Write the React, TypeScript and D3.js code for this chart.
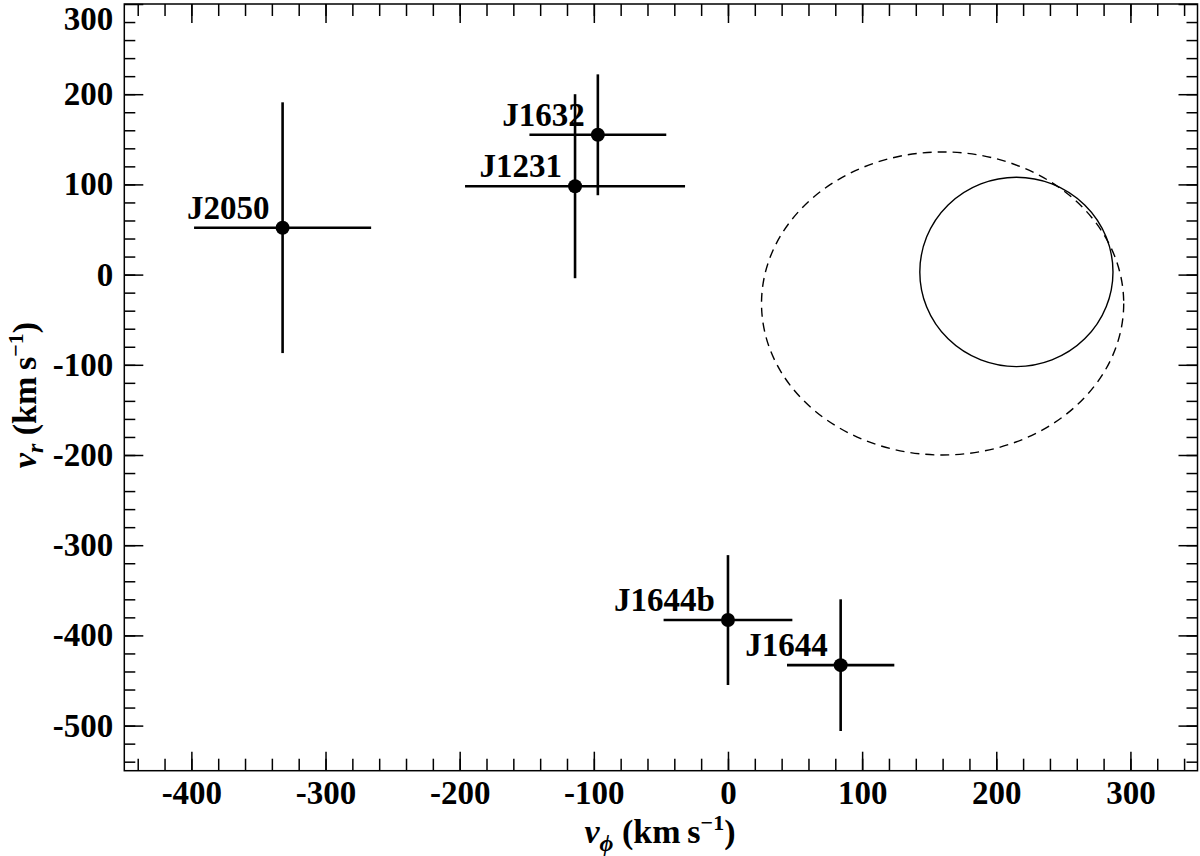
import React, { useRef, useEffect } from "react";
import * as d3 from "d3";

// stars: v_phi / v_r with 1-sigma errors (km/s)
const stars = ["J2050", "J1632", "J1231", "J1644b", "J1644"];
const vPhi = [-332, -97, -114, 0, 84];
const vPhiErr = [66, 51, 82, 48, 40];
const vR = [52, 155, 98, -383, -433];
const vRErr = [139, 67, 102, 72, 73];

// velocity ellipses (solid, dashed)
const ellipseStyle = ["solid", "dashed"];
const ellipsePhi = [215, 160];
const ellipseR = [3, -32];
const ellipseAPhi = [72, 135];
const ellipseAR = [105, 168];

// ticks
const xMajor = [-400, -300, -200, -100, 0, 100, 200, 300];
const yMajor = [-500, -400, -300, -200, -100, 0, 100, 200, 300];
const xMinor = d3.range(-440, 350, 20);
const yMinor = d3.range(-540, 300, 20);

const font = "'Liberation Serif', 'Times New Roman', serif";

export default function App() {
  const ref = useRef<SVGSVGElement>(null);

  useEffect(() => {
    const width = 1200, height = 856;
    const left = 124.3, right = 1197.5, top = 4, bottom = 770.7;

    const svg = d3.select(ref.current);
    svg.selectAll("*").remove();
    svg.attr("width", width).attr("height", height).style("font-family", font);

    const x = d3.scaleLinear().domain([-450, 350]).range([left, right]);
    const y = d3.scaleLinear().domain([-550, 300]).range([bottom, top]);

    const styleAxis = (g: any) => {
      g.select(".domain").remove();
      g.selectAll("line").attr("stroke", "#000").attr("stroke-width", 1.5);
      g.selectAll("text")
        .attr("font-size", 33)
        .attr("font-weight", "bold")
        .attr("font-family", font)
        .attr("fill", "#000");
    };

    // minor ticks, all four sides
    svg.append("g").attr("transform", `translate(0,${bottom})`)
      .call(d3.axisBottom(x).tickValues(xMinor).tickSize(-12).tickFormat(() => "")).call(styleAxis);
    svg.append("g").attr("transform", `translate(0,${top})`)
      .call(d3.axisTop(x).tickValues(xMinor).tickSize(-12).tickFormat(() => "")).call(styleAxis);
    svg.append("g").attr("transform", `translate(${left},0)`)
      .call(d3.axisLeft(y).tickValues(yMinor).tickSize(-11).tickFormat(() => "")).call(styleAxis);
    svg.append("g").attr("transform", `translate(${right},0)`)
      .call(d3.axisRight(y).tickValues(yMinor).tickSize(-11).tickFormat(() => "")).call(styleAxis);

    // major ticks
    svg.append("g").attr("transform", `translate(0,${bottom})`)
      .call(d3.axisBottom(x).tickValues(xMajor).tickSize(-19).tickPadding(10).tickFormat((d: any) => String(d)))
      .call(styleAxis);
    svg.append("g").attr("transform", `translate(0,${top})`)
      .call(d3.axisTop(x).tickValues(xMajor).tickSize(-19).tickFormat(() => "")).call(styleAxis);
    const yAxis = svg.append("g").attr("transform", `translate(${left},0)`)
      .call(d3.axisLeft(y).tickValues(yMajor).tickSize(-19).tickPadding(11).tickFormat((d: any) => String(d)))
      .call(styleAxis);
    // top label sits lower so it stays on the page
    yAxis.selectAll("g.tick").filter((d: any) => d === 300).select("text").attr("dy", "0.78em");
    svg.append("g").attr("transform", `translate(${right},0)`)
      .call(d3.axisRight(y).tickValues(yMajor).tickSize(-19).tickFormat(() => "")).call(styleAxis);

    // frame
    svg.append("rect")
      .attr("x", left).attr("y", top)
      .attr("width", right - left).attr("height", bottom - top)
      .attr("fill", "none").attr("stroke", "#000").attr("stroke-width", 1.5);

    // ellipses
    ellipseStyle.forEach((s, i) => {
      svg.append("ellipse")
        .attr("cx", x(ellipsePhi[i]))
        .attr("cy", y(ellipseR[i]))
        .attr("rx", x(ellipsePhi[i] + ellipseAPhi[i]) - x(ellipsePhi[i]))
        .attr("ry", y(ellipseR[i]) - y(ellipseR[i] + ellipseAR[i]))
        .attr("fill", "none")
        .attr("stroke", "#000")
        .attr("stroke-width", 1.4)
        .attr("stroke-dasharray", s === "dashed" ? "9,6" : null);
    });

    // error bars + points
    const pts = svg.append("g");
    stars.forEach((name, i) => {
      const px = x(vPhi[i]), py = y(vR[i]);
      pts.append("line")
        .attr("x1", x(vPhi[i] - vPhiErr[i])).attr("x2", x(vPhi[i] + vPhiErr[i]))
        .attr("y1", py).attr("y2", py)
        .attr("stroke", "#000").attr("stroke-width", 2.6);
      pts.append("line")
        .attr("x1", px).attr("x2", px)
        .attr("y1", y(vR[i] - vRErr[i])).attr("y2", y(vR[i] + vRErr[i]))
        .attr("stroke", "#000").attr("stroke-width", 2.6);
      pts.append("circle").attr("cx", px).attr("cy", py).attr("r", 7).attr("fill", "#000");
      pts.append("text")
        .attr("x", px - 13).attr("y", py - 9)
        .attr("text-anchor", "end")
        .attr("font-size", 33).attr("font-weight", "bold")
        .text(name);
    });

    // x title
    const xt = svg.append("text")
      .attr("x", 660).attr("y", 843)
      .attr("text-anchor", "middle")
      .attr("font-size", 34).attr("font-weight", "bold");
    xt.append("tspan").attr("font-style", "italic").text("v");
    xt.append("tspan").attr("font-style", "italic").attr("font-size", 24).attr("dy", 8).text("\u03d5");
    xt.append("tspan").attr("dy", -8).text(" (km\u2009s");
    xt.append("tspan").attr("font-size", 22).attr("dy", -13).text("\u22121");
    xt.append("tspan").attr("dy", 13).text(")");

    // y title
    const yt = svg.append("text")
      .attr("transform", `translate(36,395) rotate(-90)`)
      .attr("text-anchor", "middle")
      .attr("font-size", 34).attr("font-weight", "bold");
    yt.append("tspan").attr("font-style", "italic").text("v");
    yt.append("tspan").attr("font-style", "italic").attr("font-size", 24).attr("dy", 7).text("r");
    yt.append("tspan").attr("dy", -7).text(" (km\u2009s");
    yt.append("tspan").attr("font-size", 22).attr("dy", -13).text("\u22121");
    yt.append("tspan").attr("dy", 13).text(")");
  }, []);

  return <svg ref={ref} style={{ position: "absolute", left: 0, top: 0, display: "block", background: "#fff" }} />;
}
